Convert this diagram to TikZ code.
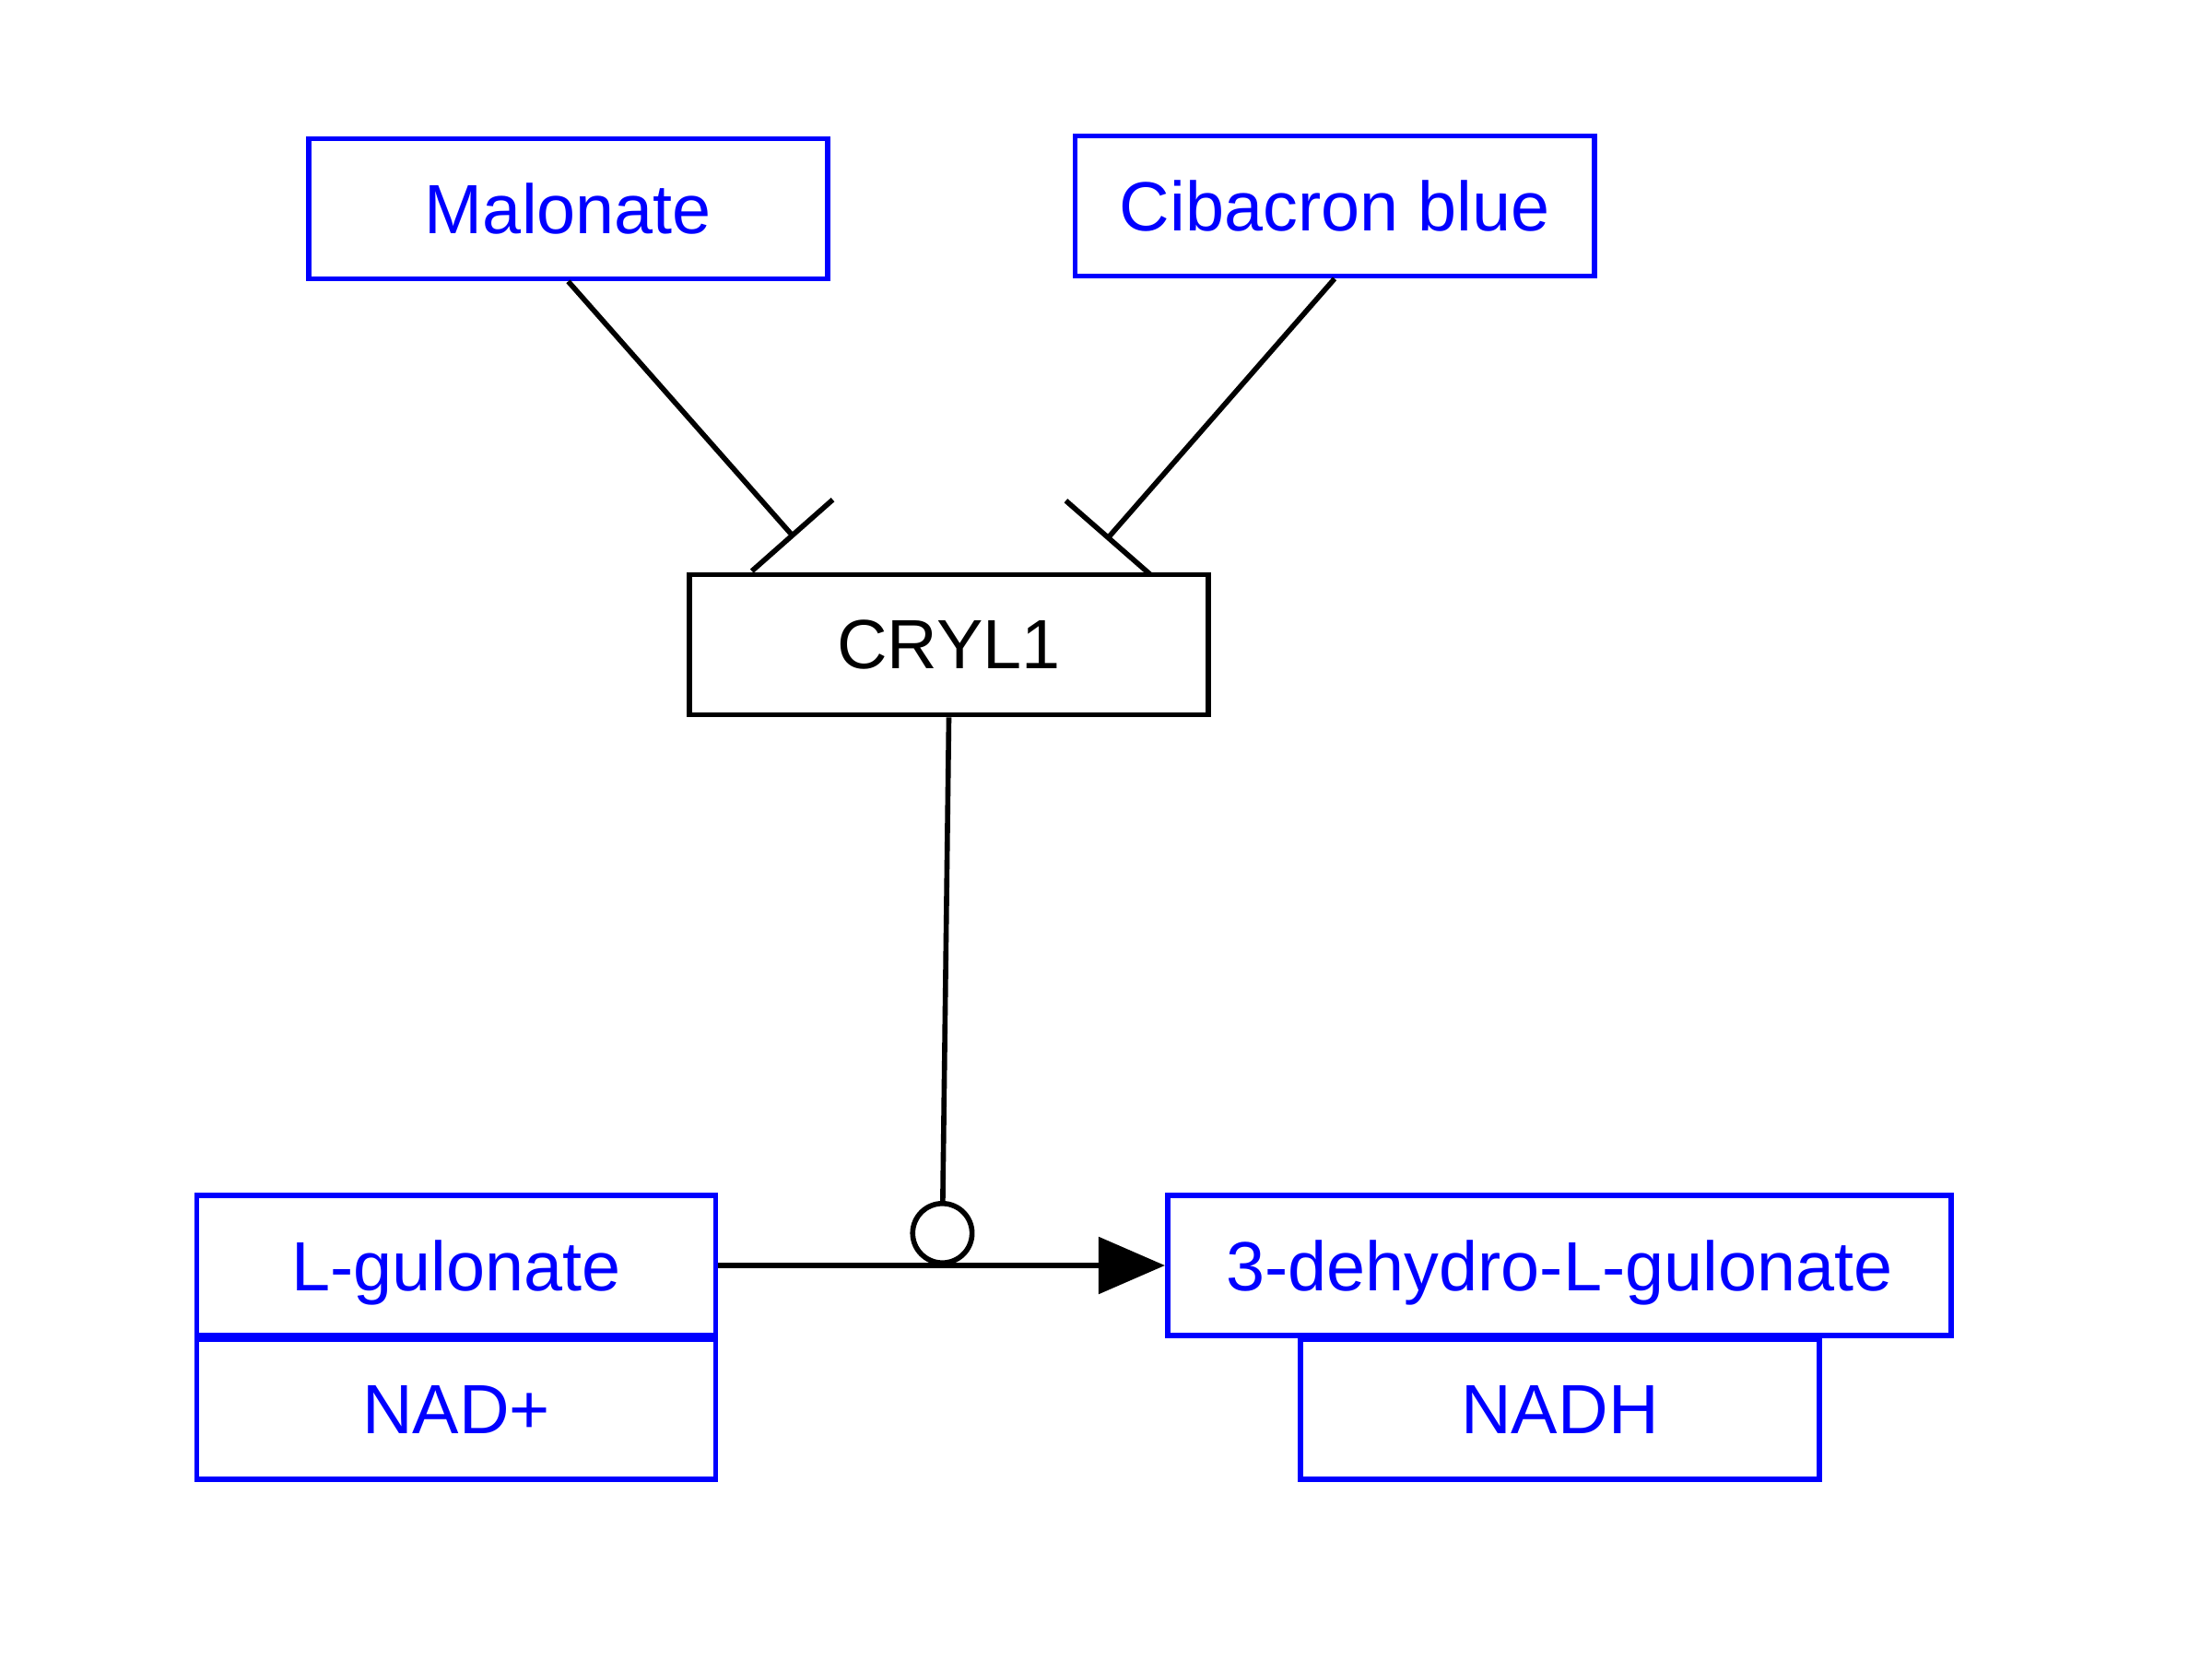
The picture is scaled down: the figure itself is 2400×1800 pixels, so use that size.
\documentclass[tikz,border=0pt]{standalone}
\usepackage{fontspec}
\setmainfont{Liberation Sans}
\usepackage{tikz}
\usetikzlibrary{calc, arrows.meta, positioning}

\begin{document}
\begin{tikzpicture}[x=0.01cm, y=-0.01cm, line width=1.6pt,
    font=\fontsize{21.5}{25}\selectfont,
    species/.style={draw=blue, text=blue, minimum width=5.63cm, minimum height=1.52cm, inner sep=0pt, text depth=0pt},
    enzyme/.style={draw=black, minimum width=5.63cm, minimum height=1.52cm, inner sep=0pt, text depth=0pt}]

    % 1. Fix the frame of the picture
    \useasboundingbox (0,0) rectangle (2400,1800);

    % 2. Inhibitors on top
    \node[species] (malonate) at (616.5,226.5) {Malonate};
    \node[species] (cibacron) at (1448,223.5) {Cibacron blue};

    % 3. The enzyme
    \node[enzyme] (cryl) at (1029.5,699.5) {CRYL1};

    % 4. Substrates and products of the reaction
    \node[species] (gulonate) at (495,1373) {L-gulonate};
    \node[species] (nad) at (495,1529) {NAD+};
    \node[species, minimum width=8.5cm] (dehydro) at (1692,1373) {3-dehydro-L-gulonate};
    \node[species] (nadh) at (1692.5,1529) {NADH};

    % 5. Ends of the inhibition lines and the catalysis point
    \coordinate (malEnd) at (861.5,583);
    \coordinate (cibEnd) at (1200.5,585.5);
    \coordinate (cat) at (1022,1373);

    % 6. Inhibition of CRYL1
    \draw[-{Bar[width=1.17cm]}] (malonate.south) -- (malEnd);
    \draw[-{Bar[width=1.22cm]}] (cibacron.south) -- (cibEnd);

    % 7. The reaction and its catalysis
    \draw[-{Triangle[length=0.72cm, width=0.61cm]}] (gulonate.east) -- (dehydro.west);
    \draw[-{Circle[open, length=0.7cm]}] (cryl.south) -- (cat);
\end{tikzpicture}
\end{document}
